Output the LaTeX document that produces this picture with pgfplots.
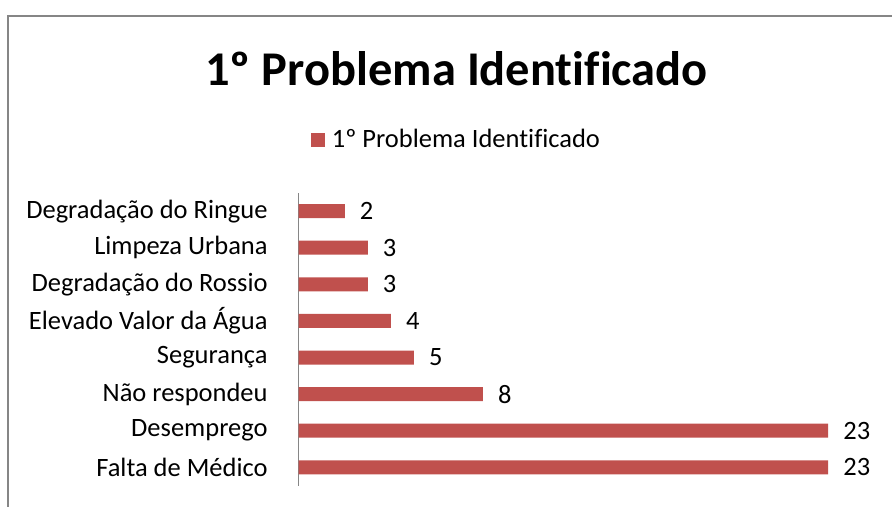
\documentclass[border=0pt]{standalone}
\usepackage{fontspec}
\setmainfont{Carlito}[Ligatures=NoCommon]
\usepackage{pgfplots}
\pgfplotsset{compat=1.18}
\definecolor{barred}{RGB}{192,80,77}
\definecolor{framegray}{RGB}{134,134,134}
\begin{document}
\begin{tikzpicture}[x=1pt,y=1pt]
% canvas and chart frame (cropped at right and bottom)
\path (0,0) rectangle (893,507);
\draw[framegray,line width=1.5pt] (8,0) -- (8,491) -- (893,491);
\node[font=\fontsize{48.5}{56}\selectfont\bfseries] at (457,438) {1º Problema Identificado};
\begin{axis}[
  at={(299pt,21pt)}, anchor=south west,
  scale only axis,
  width=576pt, height=293pt,
  xbar, bar width=14pt,
  xmin=0, xmax=25,
  ymin=-0.5, ymax=7.5,
  axis x line=none,
  axis y line*=left,
  y axis line style={framegray,line width=1.2pt,-},
  ytick={0,...,7},
  yticklabels={Falta de Médico,Desemprego,Não respondeu,Segurança,Elevado Valor da Água,Degradação do Rossio,Limpeza Urbana,Degradação do Ringue},
  major tick length=0pt,
  /pgf/number format/assume math mode=true,
  yticklabel style={font=\fontsize{26.5}{31}\selectfont, anchor=east, inner sep=0pt, xshift=-31pt},
  nodes near coords,
  nodes near coords style={font=\fontsize{26.5}{31}\selectfont, anchor=west, inner sep=0pt, xshift=15pt},
  legend style={at={(0.274,1.182)}, anchor=center, draw=none, fill=none,
    font=\fontsize{26.5}{31}\selectfont, inner sep=0pt},
  legend image code/.code={\fill[barred] (0pt,-7pt) rectangle (14pt,7pt);},
]
\addplot[fill=barred, draw=none] coordinates {
  (23,0) (23,1) (8,2) (5,3) (4,4) (3,5) (3,6) (2,7)
};
\addlegendentry{\hspace{5pt}1º Problema Identificado}
\end{axis}
\end{tikzpicture}
\end{document}
